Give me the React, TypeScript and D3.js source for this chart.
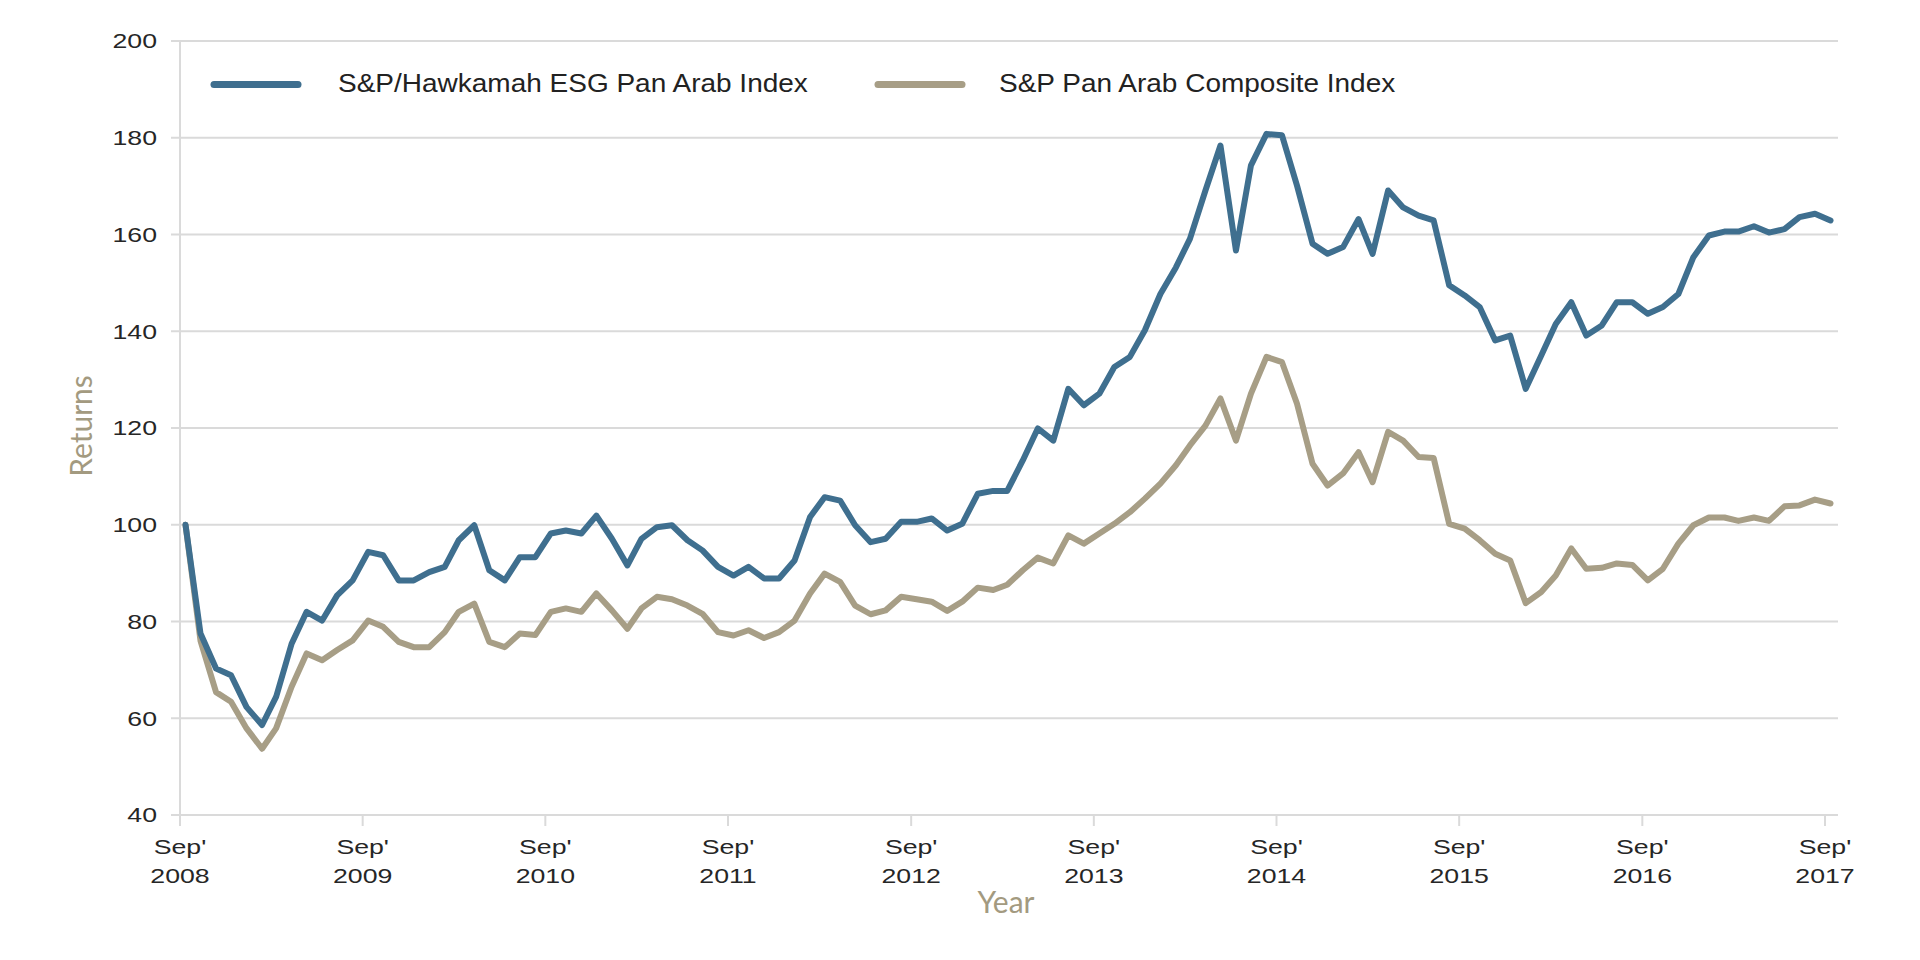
import React from 'react';
import * as d3 from 'd3';

// Monthly observations starting September 2008
const startYear = 2008;
const startMonth = 8; // September (0-based)

const esgValues = [
  100, 77.5, 70.3, 68.9, 62.3, 58.6, 64.4, 75.4, 82, 80.2,
  85.4, 88.5, 94.4, 93.7, 88.5, 88.5, 90.2, 91.3, 96.8, 99.9,
  90.6, 88.5, 93.3, 93.3, 98.2, 98.8, 98.2, 101.9, 97.1, 91.6,
  97.1, 99.5, 99.9, 96.8, 94.7, 91.3, 89.5, 91.3, 88.9, 88.9,
  92.6, 101.6, 105.7, 105, 99.9, 96.4, 97.1, 100.6, 100.6, 101.3,
  98.8, 100.2, 106.4, 107, 107, 113.3, 119.9, 117.4, 128.1, 124.7,
  127.1, 132.6, 134.7, 140.2, 147.7, 153.2, 159.1, 169.1, 178.4, 156.7,
  174.3, 180.8, 180.5, 170.1, 158.1, 156, 157.4, 163.2, 156, 169.1,
  165.6, 163.9, 162.9, 149.5, 147.4, 145, 138.1, 139.1, 128.1, 135,
  141.5, 146, 139.1, 141.2, 146, 146, 143.6, 145, 147.7, 155.3,
  159.8, 160.6, 160.6, 161.7, 160.4, 161.1, 163.6, 164.3, 162.9,
];

const compositeValues = [
  100, 76, 65.4, 63.4, 57.9, 53.7, 57.9, 66.5, 73.4, 72,
  74.1, 76.1, 80.2, 78.9, 75.8, 74.7, 74.7, 77.8, 82, 83.7,
  75.8, 74.7, 77.5, 77.2, 82, 82.7, 82, 85.8, 82.3, 78.5,
  82.7, 85.1, 84.6, 83.3, 81.6, 77.8, 77.1, 78.2, 76.6, 77.8,
  80.2, 85.8, 89.9, 88.2, 83.3, 81.5, 82.3, 85.1, 84.6, 84.1,
  82.2, 84.1, 87, 86.5, 87.6, 90.6, 93.2, 92, 97.8, 96.1,
  98.2, 100.2, 102.6, 105.4, 108.5, 112.3, 116.4, 120.5, 126.1, 117.4,
  127.1, 134.7, 133.6, 125, 112.6, 108.1, 110.6, 115, 108.8, 119.2,
  117.4, 114, 113.8, 100.2, 99.2, 96.8, 94, 92.6, 83.8, 86.1,
  89.5, 95.1, 90.9, 91.1, 92, 91.7, 88.5, 90.9, 96.1, 99.9,
  101.5, 101.5, 100.8, 101.5, 100.8, 103.8, 104, 105.2, 104.4,
];

const yTicks = [40, 60, 80, 100, 120, 140, 160, 180, 200];
const xTickYears = [2008, 2009, 2010, 2011, 2012, 2013, 2014, 2015, 2016, 2017];
const xTickMonthLabel = "Sep'";
const seriesNames = ['S&P/Hawkamah ESG Pan Arab Index', 'S&P Pan Arab Composite Index'];
const seriesColors = ['#3f6f8f', '#a79e86'];
const xTitle = 'Year';
const yTitle = 'Returns';

const W = 1920;
const H = 960;
const plotLeft = 180;
const plotRight = 1838;
const plotTop = 41;
const plotBottom = 815;

const gridColor = '#dadada';
const tickTextColor = '#262626';
const titleColor = '#a39a80';
const tickFont = '"Liberation Sans", Arial, sans-serif';
const titleFont = 'Lato, "Open Sans", sans-serif';

export default function App() {
  const x = d3
    .scaleTime()
    .domain([new Date(2008, 8, 1), new Date(2017, 8, 1)])
    .range([plotLeft, 1825]);
  const y = d3.scaleLinear().domain([40, 200]).range([plotBottom, plotTop]);

  const dateOf = (i: number) => new Date(startYear, startMonth + i, 12);

  const line = d3
    .line<number>()
    .x((_, i) => x(dateOf(i)))
    .y((d) => y(d));

  const series = [compositeValues, esgValues];
  const seriesColorOrder = [seriesColors[1], seriesColors[0]];

  return (
    <svg
      width={W}
      height={H}
      style={{ position: 'absolute', left: 0, top: 0, background: '#fff' }}
    >
      {yTicks.map((t) => (
        <line
          key={'g' + t}
          x1={plotLeft - 9}
          x2={plotRight}
          y1={y(t)}
          y2={y(t)}
          stroke={gridColor}
          strokeWidth={2}
        />
      ))}
      <line x1={plotLeft} x2={plotLeft} y1={plotTop} y2={plotBottom + 10} stroke={gridColor} strokeWidth={2} />
      {xTickYears.map((yr) => {
        const xx = x(new Date(yr, 8, 1));
        return (
          <line key={'xt' + yr} x1={xx} x2={xx} y1={plotBottom} y2={plotBottom + 11} stroke={gridColor} strokeWidth={2} />
        );
      })}
      {yTicks.map((t) => (
        <text
          key={'yl' + t}
          transform={`translate(157,${y(t)}) scale(1.27,1)`}
          textAnchor="end"
          dominantBaseline="central"
          fontFamily={tickFont}
          fontSize={21}
          fill={tickTextColor}
        >
          {t}
        </text>
      ))}
      {xTickYears.map((yr) => {
        const xx = x(new Date(yr, 8, 1));
        return (
          <g key={'xl' + yr}>
            <text
              transform={`translate(${xx},854) scale(1.27,1)`}
              textAnchor="middle"
              fontFamily={tickFont}
              fontSize={21}
              fill={tickTextColor}
            >
              {xTickMonthLabel}
            </text>
            <text
              transform={`translate(${xx},883) scale(1.27,1)`}
              textAnchor="middle"
              fontFamily={tickFont}
              fontSize={21}
              fill={tickTextColor}
            >
              {yr}
            </text>
          </g>
        );
      })}
      <text x={1006} y={913} textAnchor="middle" fontFamily={titleFont} fontSize={30} fill={titleColor}>
        {xTitle}
      </text>
      <text
        transform={`translate(80,426) rotate(-90)`}
        textAnchor="middle"
        dominantBaseline="central"
        fontFamily={titleFont}
        fontSize={30}
        fill={titleColor}
      >
        {yTitle}
      </text>
      {series.map((vals, si) => (
        <path
          key={'s' + si}
          d={line(vals) || ''}
          fill="none"
          stroke={seriesColorOrder[si]}
          strokeWidth={6}
          strokeLinejoin="round"
          strokeLinecap="round"
        />
      ))}
      {seriesNames.map((name, i) => {
        const lx = i === 0 ? 214 : 878;
        const tx = i === 0 ? 338 : 999;
        return (
          <g key={'lg' + i}>
            <line
              x1={lx}
              x2={lx + 84}
              y1={84.5}
              y2={84.5}
              stroke={seriesColors[i]}
              strokeWidth={7}
              strokeLinecap="round"
            />
            <text
              transform={`translate(${tx},92) scale(1.12,1)`}
              fontFamily={tickFont}
              fontSize={25}
              fill="#222"
            >
              {name}
            </text>
          </g>
        );
      })}
    </svg>
  );
}
